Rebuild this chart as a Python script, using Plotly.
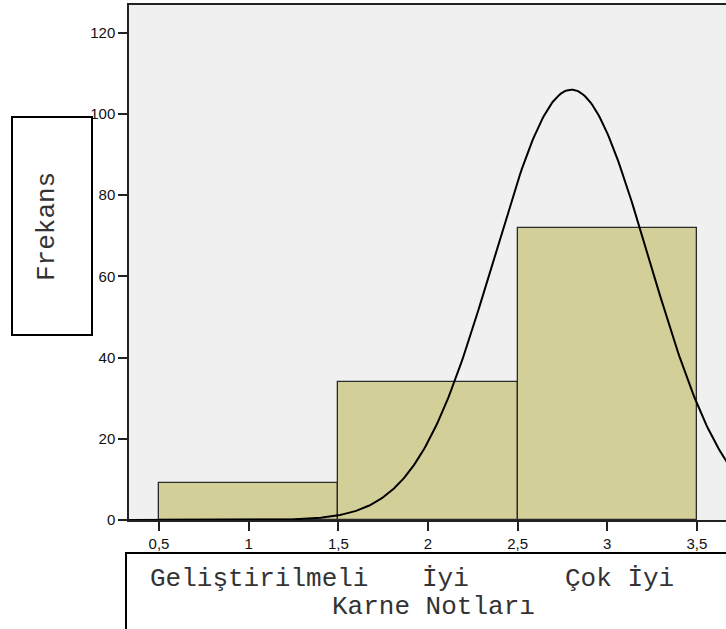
import numpy as np
import plotly.graph_objects as go

# Data
bin_centers = [1, 2, 3]
frequencies = [9, 34, 72]
category_labels = ["Geliştirilmeli", "İyi", "Çok İyi"]
x_tick_vals = [0.5, 1, 1.5, 2, 2.5, 3, 3.5]
x_tick_text = ["0,5", "1", "1,5", "2", "2,5", "3", "3,5"]
y_tick_vals = [0, 20, 40, 60, 80, 100, 120]
y_tick_text = ["0", "20", "40", "60", "80", "100", "120"]
# normal curve parameters (fitted curve shown in chart)
curve_mean = 2.80
curve_sd = 0.433
curve_n = 115
bin_width = 1.0

xs = np.linspace(0.33, 3.67, 400)
ys = curve_n * bin_width / (curve_sd * np.sqrt(2 * np.pi)) * np.exp(-0.5 * ((xs - curve_mean) / curve_sd) ** 2)

W, H = 726, 629
L, R, T, B = 129, 0, 5, 109
pw, ph = W - L - R, H - T - B

def px(x):
    return (x - L) / pw

def py(y):
    return (H - B - y) / ph

fig = go.Figure()
fig.add_trace(go.Bar(
    x=bin_centers, y=frequencies, width=bin_width,
    marker=dict(color="#d3cf98", line=dict(color="#2a2a2a", width=1.3)),
    showlegend=False, hoverinfo="skip"))
fig.add_trace(go.Scatter(
    x=xs, y=ys, mode="lines", line=dict(color="black", width=2),
    showlegend=False, hoverinfo="skip"))

fig.update_layout(
    width=W, height=H,
    margin=dict(l=L, r=R, t=T, b=B, pad=0, autoexpand=False),
    paper_bgcolor="white", plot_bgcolor="#f0f0f0",
    font=dict(family="Liberation Sans, Arial", size=15, color="#111"),
    bargap=0,
    xaxis=dict(range=[0.3327, 3.662], tickvals=x_tick_vals, ticktext=x_tick_text,
               showgrid=False, zeroline=False, showline=True, linecolor="#222", linewidth=1.5,
               ticks="outside", ticklen=9, tickwidth=1.5, tickcolor="#222",
               tickfont=dict(size=15), mirror=True, automargin=False),
    yaxis=dict(range=[0, 126.8], tickvals=y_tick_vals, ticktext=y_tick_text,
               showgrid=False, zeroline=False, showline=True, linecolor="#222", linewidth=1.5,
               ticks="outside", ticklen=9, tickwidth=1.5, tickcolor="#222",
               tickfont=dict(size=15), mirror=True, automargin=False),
)

mono = dict(family="Liberation Mono, Courier New, monospace", size=26, color="#333")

# Frekans box
fig.add_shape(type="rect", xref="paper", yref="paper",
              x0=px(12), x1=px(92), y0=py(335), y1=py(117),
              line=dict(color="black", width=2), fillcolor="white", layer="above")
fig.add_annotation(xref="paper", yref="paper", x=px(47), y=py(227), text="Frekans",
                   textangle=-90, showarrow=False, font=mono, xanchor="center", yanchor="middle")

# Bottom box
fig.add_shape(type="rect", xref="paper", yref="paper",
              x0=px(126), x1=px(740), y0=py(640), y1=py(553),
              line=dict(color="black", width=2), fillcolor="white", layer="above")
label_x = [148, 420, 563]
for lx, lab in zip(label_x, category_labels):
    fig.add_annotation(xref="paper", yref="paper", x=px(lx), y=py(579), text=lab,
                       showarrow=False, font=mono, xanchor="left", yanchor="middle")
fig.add_annotation(xref="paper", yref="paper", x=px(433), y=py(607), text="Karne Notları",
                   showarrow=False, font=mono, xanchor="center", yanchor="middle")

fig.write_html("out.html", config={"displayModeBar": False},
               post_script="document.body.style.margin='0';")
